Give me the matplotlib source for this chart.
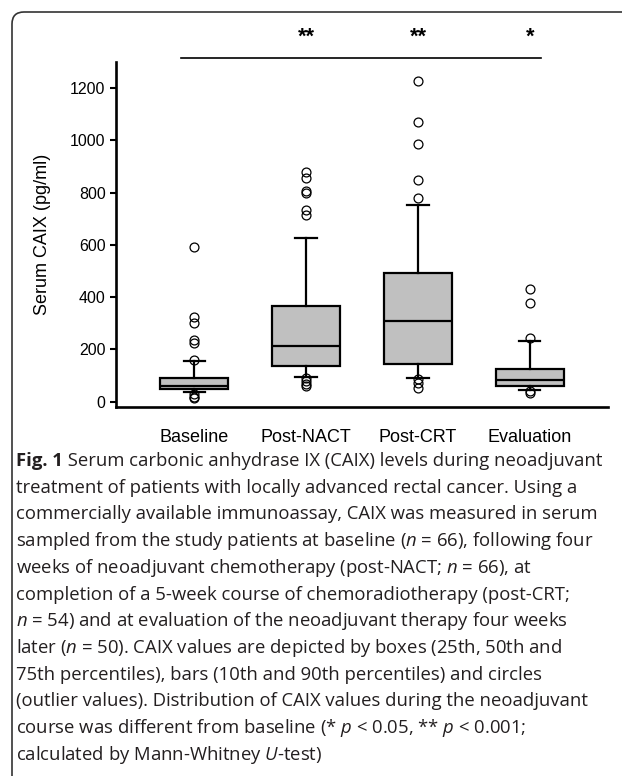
import matplotlib
matplotlib.use('Agg')
import matplotlib.pyplot as plt
from matplotlib.path import Path
from matplotlib.patches import PathPatch

# ---------------- data ----------------
categories = ['Baseline', 'Post-NACT', 'Post-CRT', 'Evaluation']
p10 = [38, 96, 90, 45]
q25 = [47, 137, 144, 61]
q50 = [60, 214, 310, 83]
q75 = [92, 367, 492, 124]
p90 = [155, 626, 751, 232]
outliers_baseline = [594, 323, 303, 236, 224, 160, 30, 20, 14]
outliers_postnact = [878, 858, 808, 798, 733, 714, 90, 80, 68, 62]
outliers_postcrt = [1228, 1072, 988, 850, 778, 86, 72, 52]
outliers_evaluation = [430, 377, 243, 40, 33]
significance = ['', '**', '**', '*']
y_ticks = [0, 200, 400, 600, 800, 1000, 1200]
y_label = 'Serum CAIX (pg/ml)'

caption_bold = 'Fig. 1'
caption_lines = [
    ' Serum carbonic anhydrase IX (CAIX) levels during neoadjuvant',
    'treatment of patients with locally advanced rectal cancer. Using a',
    'commercially available immunoassay, CAIX was measured in serum',
    'sampled from the study patients at baseline ($n$ = 66), following four',
    'weeks of neoadjuvant chemotherapy (post-NACT; $n$ = 66), at',
    'completion of a 5-week course of chemoradiotherapy (post-CRT;',
    '$n$ = 54) and at evaluation of the neoadjuvant therapy four weeks',
    'later ($n$ = 50). CAIX values are depicted by boxes (25th, 50th and',
    '75th percentiles), bars (10th and 90th percentiles) and circles',
    '(outlier values). Distribution of CAIX values during the neoadjuvant',
    'course was different from baseline (* $p$ < 0.05, ** $p$ < 0.001;',
    'calculated by Mann-Whitney $U$-test)',
]

# ---------------- style ----------------
plt.rcParams['font.family'] = ['Liberation Sans', 'DejaVu Sans']
plt.rcParams['mathtext.fontset'] = 'custom'
plt.rcParams['mathtext.it'] = 'Open Sans:italic'
plt.rcParams['mathtext.rm'] = 'Open Sans'

W, H = 622, 776
fig = plt.figure(figsize=(W / 100, H / 100), dpi=100)

def fx(px):
    return px / W

def fy(py):
    return 1 - py / H

ax_left, ax_right, ax_top, ax_bottom = 116, 608, 62, 406.7
ax = fig.add_axes([fx(ax_left), fy(ax_bottom), fx(ax_right - ax_left), (ax_bottom - ax_top) / H])

positions = list(range(1, len(categories) + 1))
all_outliers = [outliers_baseline, outliers_postnact, outliers_postcrt, outliers_evaluation]
stats = []
for i, cat in enumerate(categories):
    stats.append(dict(label=cat, whislo=p10[i], q1=q25[i], med=q50[i], q3=q75[i],
                      whishi=p90[i], fliers=all_outliers[i]))

ax.bxp(stats, positions=positions, widths=0.61, capwidths=0.19, patch_artist=True,
       boxprops=dict(facecolor='#c0c0c0', edgecolor='black', linewidth=1.6),
       medianprops=dict(color='black', linewidth=1.6),
       whiskerprops=dict(color='black', linewidth=1.6),
       capprops=dict(color='black', linewidth=1.6),
       flierprops=dict(marker='o', markerfacecolor='none', markeredgecolor='black',
                       markersize=6.4, markeredgewidth=0.9))

ax.set_xlim(0.30, 4.70)
ax.set_ylim(-19, 1300)
ax.set_yticks(y_ticks)
ax.set_yticklabels([str(v) for v in y_ticks], fontsize=11.5)
ax.set_xticks(positions)
ax.set_xticklabels(categories, fontsize=13)
ax.tick_params(axis='x', length=0, pad=16)
ax.tick_params(axis='y', length=4.5, width=1.5, pad=3)
for s in ['top', 'right']:
    ax.spines[s].set_visible(False)
for s in ['left', 'bottom']:
    ax.spines[s].set_linewidth(1.9)

# significance bar & stars
ax.plot([0.88, 4.10], [1316, 1316], color='black', lw=1.2, clip_on=False)
for pos, s in zip(positions, significance):
    if s:
        ax.text(pos, 1395, s, ha='center', va='center', fontsize=15.5, fontweight='bold',
                clip_on=False)

fig.text(fx(43), fy(234), y_label, rotation=90, ha='center', va='center', fontsize=13)

# frame (top and left border with rounded corner)
verts = [(fx(12), fy(800)), (fx(12), fy(24)), (fx(12), fy(12)), (fx(24), fy(12)), (fx(640), fy(12))]
codes = [Path.MOVETO, Path.LINETO, Path.CURVE3, Path.CURVE3, Path.LINETO]
fig.add_artist(PathPatch(Path(verts, codes), fill=False, edgecolor='#333333', lw=1.2,
                         transform=fig.transFigure))

# caption
cap_color = '#231f20'
renderer = fig.canvas.get_renderer()
x0 = 16
target_w = 598 - x0
base_fs = 12.0
tb = fig.text(fx(x0), fy(466), caption_bold, fontsize=base_fs, fontweight='bold',
              family='Open Sans', color=cap_color, va='baseline')
tr = fig.text(0, fy(466), caption_lines[0], fontsize=base_fs, family='Open Sans',
              color=cap_color, va='baseline')
wb = tb.get_window_extent(renderer).width
wr = tr.get_window_extent(renderer).width
fs = base_fs * target_w / (wb + wr)
tb.set_fontsize(fs)
tr.set_fontsize(fs)
wb = tb.get_window_extent(renderer).width
tr.set_x(fx(x0 + wb))
line_gap = 26.7
for i, line in enumerate(caption_lines[1:], start=1):
    fig.text(fx(x0), fy(466 + i * line_gap), line, fontsize=fs, family='Open Sans',
             color=cap_color, va='baseline')

fig.savefig('out.png', dpi=100)
